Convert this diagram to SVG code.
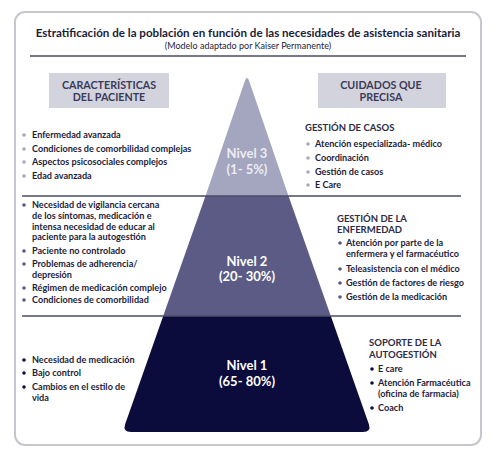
<svg xmlns="http://www.w3.org/2000/svg" width="497" height="458" viewBox="0 0 497 458">
<style>
text{font-family:Lato,"Liberation Sans",Arial,sans-serif;}
.t{font-size:9.1px;font-weight:bold;fill:#1c1c3a;}
.h{font-size:9.5px;font-weight:bold;fill:#2c2c46;}
.hd{font-size:10.7px;font-weight:bold;fill:#3a3a58;text-anchor:middle;}
.lv{font-size:13px;font-weight:bold;fill:#ffffff;text-anchor:middle;}
.sep{stroke:#4b4b66;stroke-width:1.5;fill:none;}
.b3{fill:#a9a9bb;}
.b2{fill:#5a5a80;}
.b1{fill:#0f0f3e;}
</style>
<rect x="15" y="12" width="466" height="433" rx="10" fill="#ffffff" stroke="#c6c6ce" stroke-width="2"/>
<g id="title">
<text x="248" y="37" text-anchor="middle" style="font-size:11.6px;font-weight:bold;fill:#1c1c3a">Estratificación de la población en función de las necesidades de asistencia sanitaria</text>
<text x="248" y="49" text-anchor="middle" style="font-size:9px;fill:#1c1c3a">(Modelo adaptado por Kaiser Permanente)</text>
</g>
<g id="header-left">
<rect x="49" y="73" width="120" height="35" fill="#d3d3de"/>
<text class="hd" x="109" y="89">CARACTERÍSTICAS</text>
<text class="hd" x="109" y="101">DEL PACIENTE</text>
</g>
<g id="header-right">
<rect x="318" y="73" width="128" height="35" fill="#d3d3de"/>
<text class="hd" x="381" y="89">CUIDADOS QUE</text>
<text class="hd" x="381" y="101">PRECISA</text>
</g>
<g id="level3">
<path d="M244.5,82 Q247,74 249.5,82 L288.5,196 L205.5,196 Z" fill="#a4a5bf"/>
<text class="lv" x="247" y="158" style="fill:#ececf2">Nivel 3</text>
<text class="lv" x="247" y="174" style="fill:#ececf2">(1- 5%)</text>
</g>
<g id="level2">
<path d="M205.5,196 L288.5,196 L330.8,316 L163.2,316 Z" fill="#5b5b86"/>
<text class="lv" x="247" y="266">Nivel 2</text>
<text class="lv" x="247" y="281">(20- 30%)</text>
</g>
<g id="level1">
<path d="M163.2,316 L330.8,316 L368.8,424 Q371.6,432 363,432 L131,432 Q122.4,432 125.2,424 Z" fill="#0c0c3c"/>
<text class="lv" x="247" y="370">Nivel 1</text>
<text class="lv" x="247" y="386">(65- 80%)</text>
</g>
<g id="connectors">
<line class="sep" x1="30" y1="56" x2="466" y2="56"/>
<line class="sep" x1="22" y1="196" x2="461" y2="196"/>
<line class="sep" x1="22" y1="316" x2="461" y2="316"/>
</g>
<g id="left-level3">
<circle class="b3" cx="24" cy="135" r="1.8"/>
<circle class="b3" cx="24" cy="149" r="1.8"/>
<circle class="b3" cx="24" cy="162" r="1.8"/>
<circle class="b3" cx="24" cy="176" r="1.8"/>
<text class="t" x="32" y="138">Enfermedad avanzada</text>
<text class="t" x="32" y="152">Condiciones de comorbilidad complejas</text>
<text class="t" x="32" y="165">Aspectos psicosociales complejos</text>
<text class="t" x="32" y="179">Edad avanzada</text>
</g>
<g id="left-level2">
<circle class="b2" cx="24" cy="205" r="1.8"/>
<circle class="b2" cx="24" cy="251" r="1.8"/>
<circle class="b2" cx="24" cy="264" r="1.8"/>
<circle class="b2" cx="24" cy="288" r="1.8"/>
<circle class="b2" cx="24" cy="300" r="1.8"/>
<text class="t" x="32" y="208">Necesidad de vigilancia cercana</text>
<text class="t" x="32" y="219">de los síntomas, medicación e</text>
<text class="t" x="32" y="230">intensa necesidad de educar al</text>
<text class="t" x="32" y="240">paciente para la autogestión</text>
<text class="t" x="32" y="254">Paciente no controlado</text>
<text class="t" x="32" y="267">Problemas de adherencia/</text>
<text class="t" x="32" y="278">depresión</text>
<text class="t" x="32" y="291">Régimen de medicación complejo</text>
<text class="t" x="32" y="303">Condiciones de comorbilidad</text>
</g>
<g id="left-level1">
<circle class="b1" cx="24" cy="360" r="1.8"/>
<circle class="b1" cx="24" cy="373" r="1.8"/>
<circle class="b1" cx="24" cy="387" r="1.8"/>
<text class="t" x="32" y="363">Necesidad de medicación</text>
<text class="t" x="32" y="376">Bajo control</text>
<text class="t" x="32" y="390">Cambios en el estilo de</text>
<text class="t" x="32" y="401">vida</text>
</g>
<g id="right-level3">
<text class="h" x="305" y="131">GESTIÓN DE CASOS</text>
<circle class="b3" cx="308" cy="144" r="1.8"/>
<circle class="b3" cx="308" cy="158" r="1.8"/>
<circle class="b3" cx="308" cy="172" r="1.8"/>
<circle class="b3" cx="308" cy="185" r="1.8"/>
<text class="t" x="315" y="147">Atención especializada- médico</text>
<text class="t" x="315" y="161">Coordinación</text>
<text class="t" x="315" y="175">Gestión de casos</text>
<text class="t" x="315" y="188">E Care</text>
</g>
<g id="right-level2">
<text class="h" x="337" y="222">GESTIÓN DE LA</text>
<text class="h" x="337" y="233">ENFERMEDAD</text>
<circle class="b2" cx="340" cy="243" r="1.8"/>
<circle class="b2" cx="340" cy="269" r="1.8"/>
<circle class="b2" cx="340" cy="283" r="1.8"/>
<circle class="b2" cx="340" cy="297" r="1.8"/>
<text class="t" x="346" y="246">Atención por parte de la</text>
<text class="t" x="346" y="257">enfermera y el farmacéutico</text>
<text class="t" x="346" y="272">Teleasistencia con el médico</text>
<text class="t" x="346" y="286">Gestión de factores de riesgo</text>
<text class="t" x="346" y="300">Gestión de la medicación</text>
</g>
<g id="right-level1">
<text class="h" x="369" y="346">SOPORTE DE LA</text>
<text class="h" x="369" y="358">AUTOGESTIÓN</text>
<circle class="b1" cx="372" cy="369" r="1.8"/>
<circle class="b1" cx="372" cy="383" r="1.8"/>
<circle class="b1" cx="372" cy="408" r="1.8"/>
<text class="t" x="378" y="372">E care</text>
<text class="t" x="378" y="386">Atención Farmacéutica</text>
<text class="t" x="378" y="397">(oficina de farmacia)</text>
<text class="t" x="378" y="411">Coach</text>
</g>
</svg>
